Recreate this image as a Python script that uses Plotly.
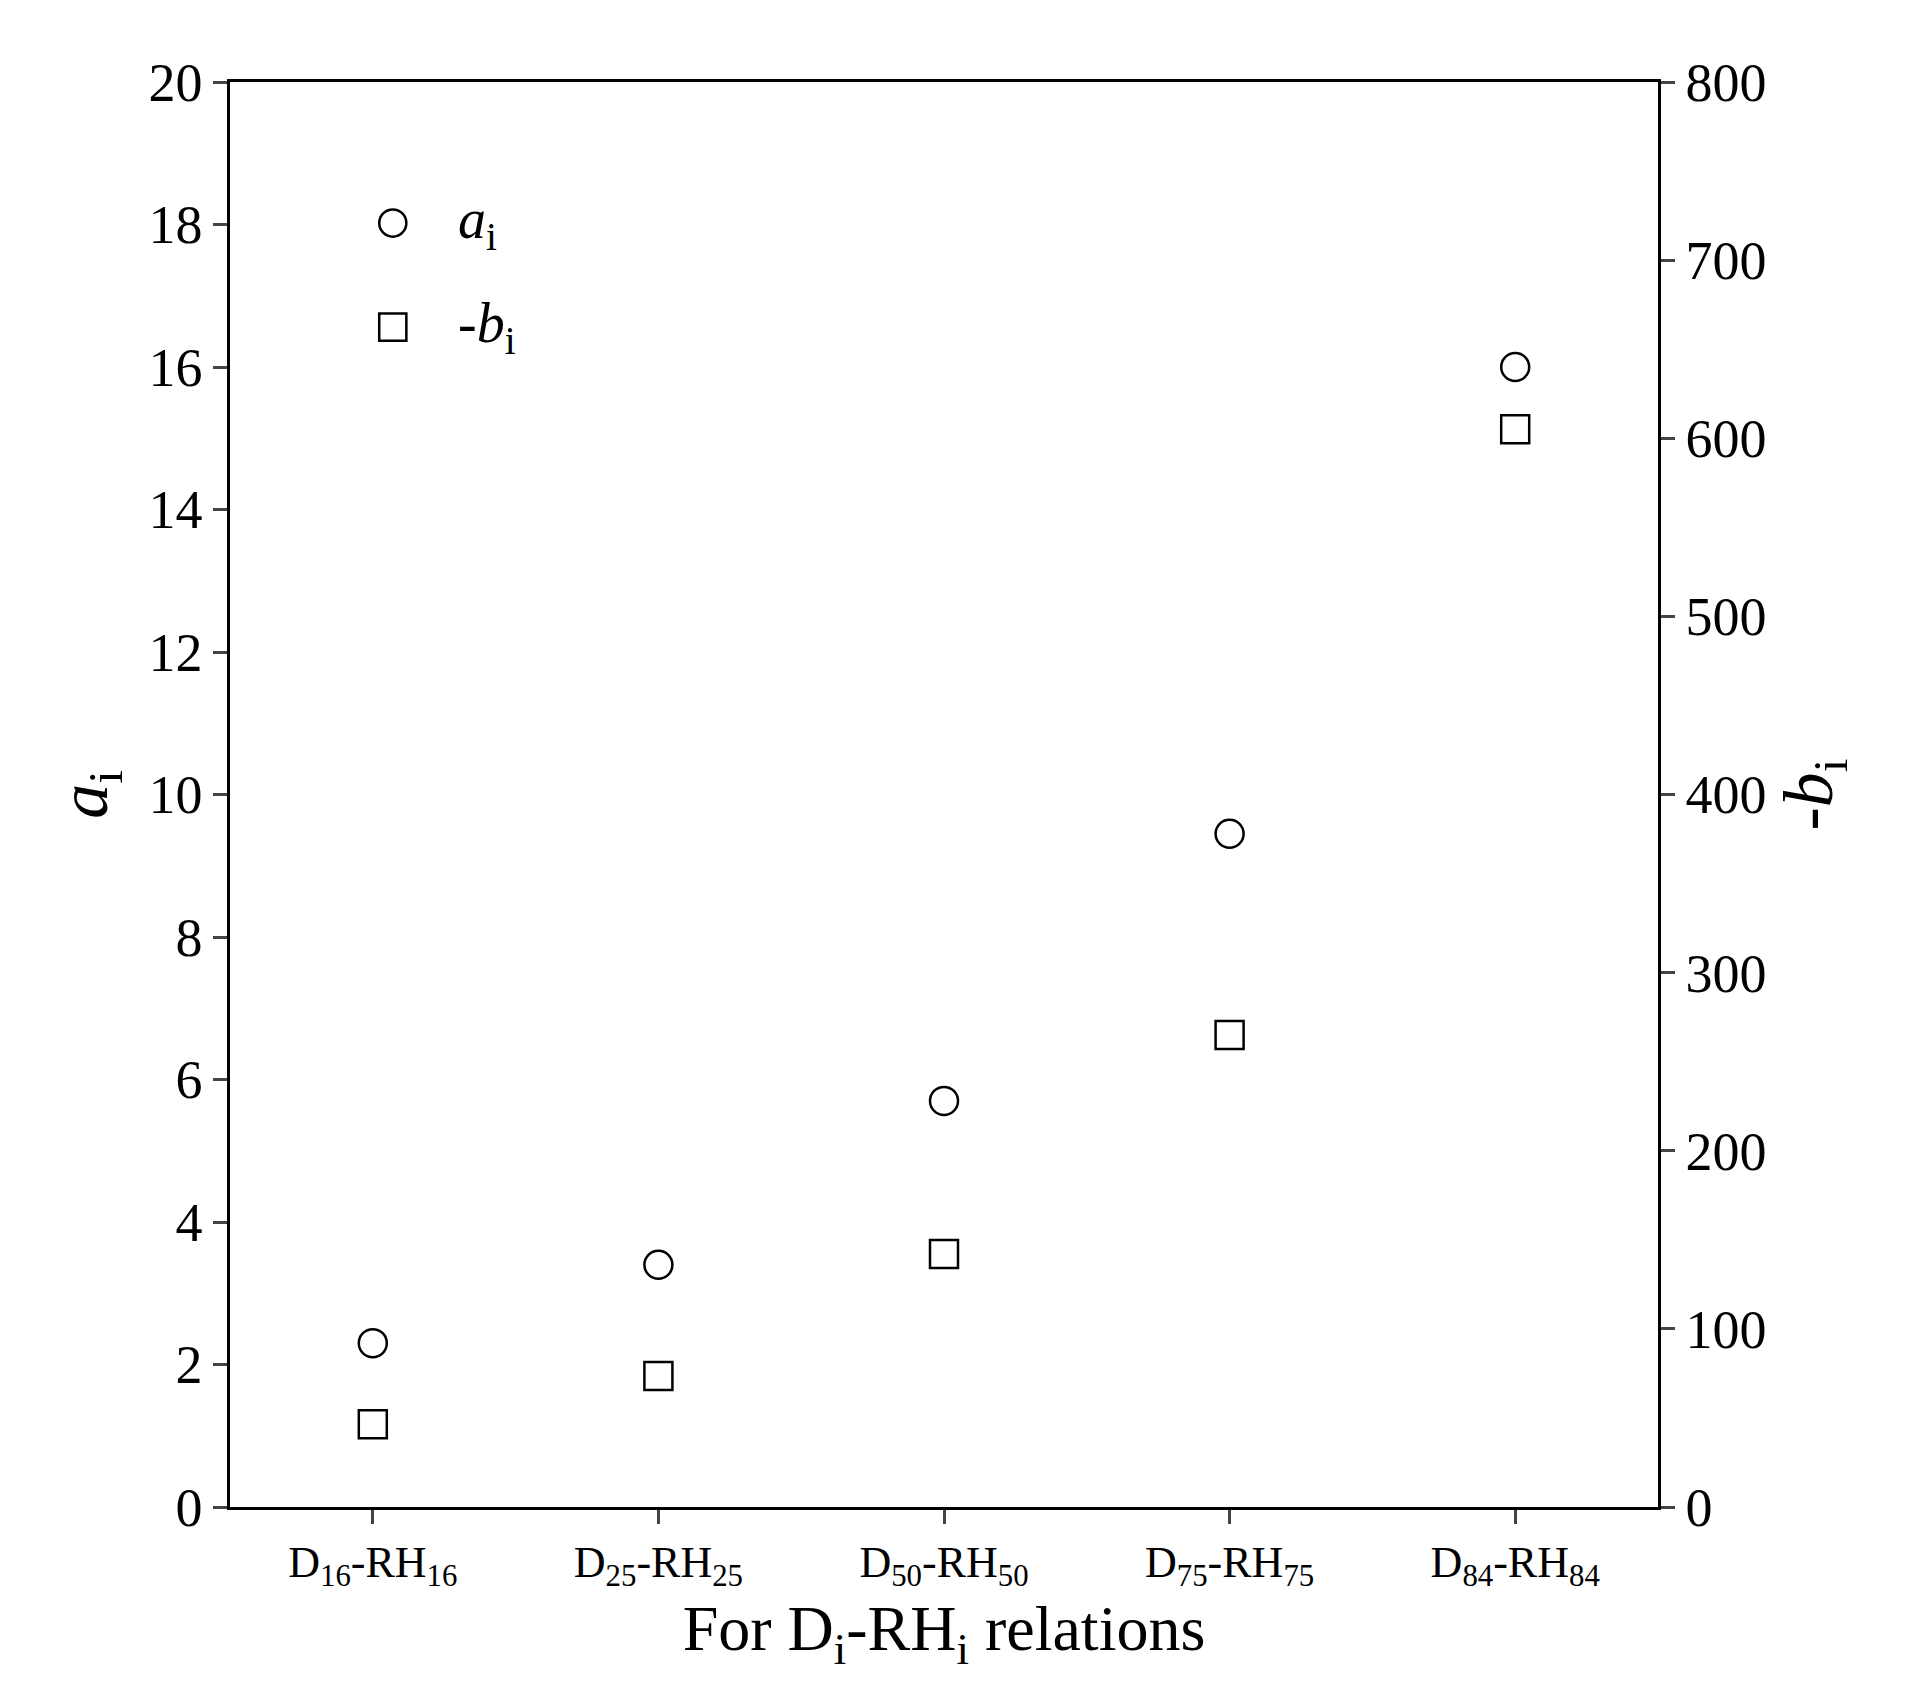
import plotly.graph_objects as go

cats = ["D<sub>16</sub>-RH<sub>16</sub>", "D<sub>25</sub>-RH<sub>25</sub>", "D<sub>50</sub>-RH<sub>50</sub>",
        "D<sub>75</sub>-RH<sub>75</sub>", "D<sub>84</sub>-RH<sub>84</sub>"]
a_vals = [2.3, 3.4, 5.7, 9.45, 16.0]
neg_b_vals = [46.5, 73.5, 142, 265, 605]

font = "Liberation Serif"
fig = go.Figure()
fig.add_trace(go.Scatter(x=list(range(5)), y=a_vals, mode="markers", name="a",
                         marker=dict(symbol="circle-open", size=28, color="black", line=dict(width=2.5))))
fig.add_trace(go.Scatter(x=list(range(5)), y=neg_b_vals, mode="markers", name="b", yaxis="y2",
                         marker=dict(symbol="square-open", size=28, color="black", line=dict(width=2.5))))

axis_common = dict(showline=True, linecolor="black", linewidth=2.5, ticks="outside", ticklen=14,
                   tickwidth=2.5, showgrid=False, zeroline=False, tickfont=dict(size=54, family=font, color="black"))
fig.update_layout(
    width=1916, height=1702, plot_bgcolor="white", paper_bgcolor="white",
    margin=dict(l=222, r=266, t=74, b=203),
    font=dict(family=font, color="black"),
    showlegend=False,
    xaxis=dict(axis_common, range=[-0.5, 4.5], tickvals=list(range(5)), ticktext=cats,
               tickfont=dict(size=44, family=font, color="black"), mirror=True,
               title=dict(text="For D<sub>i</sub>-RH<sub>i</sub> relations", font=dict(size=64, family=font), standoff=14)),
    yaxis=dict(axis_common, range=[0, 20], dtick=2,
               title=dict(text="<i>a</i><sub>i</sub>", font=dict(size=70, family=font), standoff=18)),
    yaxis2=dict(axis_common, range=[0, 800], dtick=100, overlaying="y", side="right",
                title=dict(text="-<i>b</i><sub>i</sub>", font=dict(size=70, family=font), standoff=18)),
)

# manual legend (plotly caps legend symbol size)
r = 0.0095
fig.add_shape(type="circle", xref="paper", yref="paper", x0=0.114 - r, x1=0.114 + r,
              y0=0.901 - r * 1155 / 1153, y1=0.901 + r * 1155 / 1153, line=dict(color="black", width=2.5))
fig.add_shape(type="rect", xref="paper", yref="paper", x0=0.114 - r, x1=0.114 + r,
              y0=0.828 - r * 1155 / 1153, y1=0.828 + r * 1155 / 1153, line=dict(color="black", width=2.5))
for yy, txt in [(0.901, "<i>a</i><sub>i</sub>"), (0.828, "-<i>b</i><sub>i</sub>")]:
    fig.add_annotation(x=0.158, y=yy, xref="paper", yref="paper", text=txt, showarrow=False,
                       xanchor="left", yanchor="middle", font=dict(size=56, family=font, color="black"))
fig.write_html("out.html")
